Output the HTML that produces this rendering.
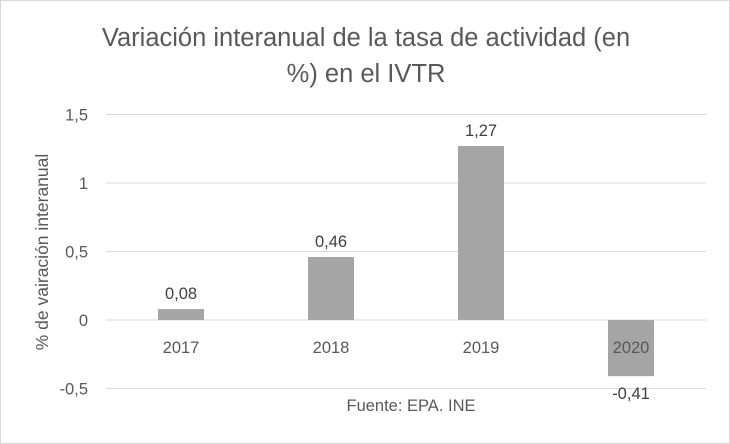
<!DOCTYPE html>
<html><head><meta charset="utf-8">
<style>
body{margin:0;background:#fff;}
svg{display:block;font-family:"Liberation Sans",sans-serif;}
</style></head>
<body>
<svg id="chart" width="730" height="444">
<rect x="0.5" y="0.5" width="729" height="443" fill="#fff" stroke="#d9d9d9"/>
<text x="366" y="46" text-anchor="middle" font-size="25.5" fill="#595959">Variación interanual de la tasa de actividad (en</text>
<text x="366" y="82" text-anchor="middle" font-size="25.5" fill="#595959">%) en el IVTR</text>
<text transform="translate(48,252) rotate(-90)" text-anchor="middle" font-size="17.5" fill="#595959">% de vairación interanual</text>
<text x="411" y="411" text-anchor="middle" font-size="16.5" fill="#595959">Fuente: EPA. INE</text>
<g id="grid"></g><g id="bars"></g><g id="labels"></g>
</svg>
<script>
const categories=["2017","2018","2019","2020"];
const values=[0.08,0.46,1.27,-0.41];
const valueLabels=["0,08","0,46","1,27","-0,41"];
const ticks=[1.5,1,0.5,0,-0.5];
const tickLabels=["1,5","1","0,5","0","-0,5"];
const NS="http://www.w3.org/2000/svg";
const x0=106,x1=706,yZero=320,pxPerUnit=137;
const y=v=>yZero-v*pxPerUnit;
const band=(x1-x0)/categories.length;
const cx=i=>x0+band*(i+0.5);
function mk(tag,attrs,parent,text){const e=document.createElementNS(NS,tag);for(const k in attrs)e.setAttribute(k,attrs[k]);if(text!==undefined)e.textContent=text;document.getElementById(parent).appendChild(e);return e;}
ticks.forEach((t,i)=>{
 const l=mk("line",{x1:x0,x2:x1,y1:y(t),y2:y(t),stroke:"#d9d9d9","stroke-width":1},"grid");
 
 
 const tx=mk("text",{x:88,y:y(t)+6,"text-anchor":"end","font-size":16.5,fill:"#595959"},"grid",tickLabels[i]);
 
 
});
const bw=46;
values.forEach((v,i)=>{
 const top=Math.min(y(v),yZero),h=Math.abs(y(v)-yZero);
 const r=mk("rect",{x:cx(i)-bw/2,y:top,width:bw,height:h,fill:"#a5a5a5"},"bars");
 
 
 const c=mk("text",{x:cx(i),y:353,"text-anchor":"middle","font-size":16.5,fill:"#595959"},"labels",categories[i]);
 
 
 const ly=v>=0?y(v)-10:y(v)+23;
 const d=mk("text",{x:cx(i),y:ly,"text-anchor":"middle","font-size":16.5,fill:"#404040"},"labels",valueLabels[i]);
 
 
});
</script>
</body></html>
